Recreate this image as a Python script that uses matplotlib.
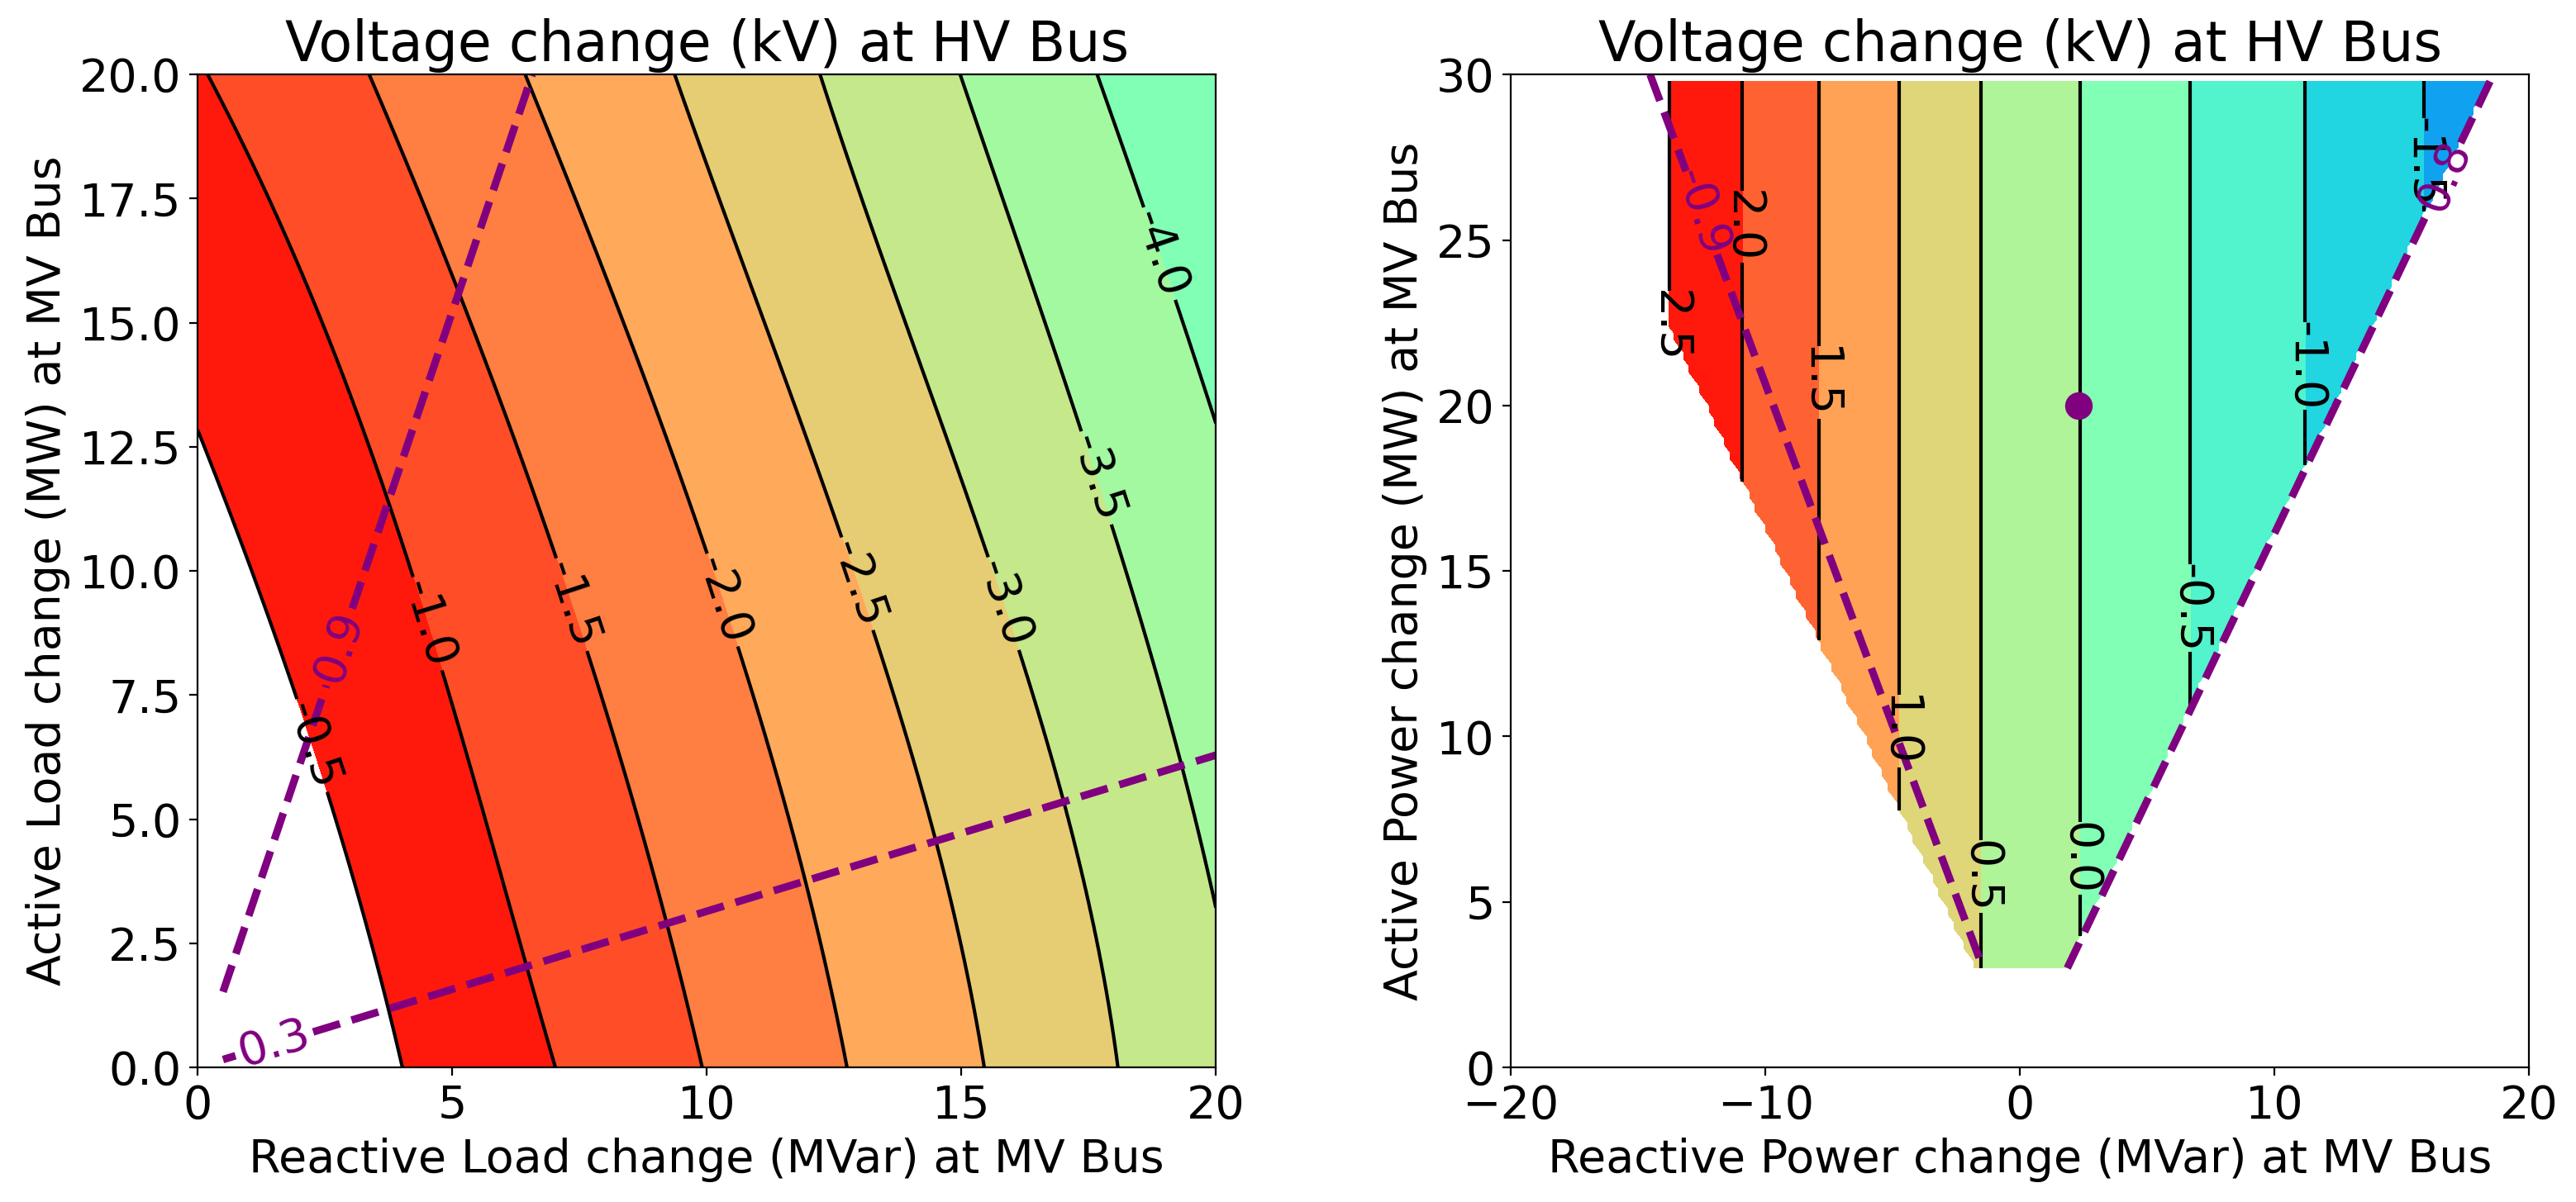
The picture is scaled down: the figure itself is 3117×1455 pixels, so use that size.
import numpy as np
import matplotlib
matplotlib.use("Agg")
from matplotlib import pyplot as plt
from matplotlib.colors import Normalize

plt.rcParams['font.size'] = 20

# ---- left panel: contour lines ----
# x position (MVar) of each level line at these active load values (MW)
left_p_knots = [0, 5, 10, 15, 20]
left_levels = [0.0, -0.5, -1.0, -1.5, -2.0, -2.5, -3.0, -3.5, -4.0, -4.5]
left_q_at_level = [
    [1.0, -0.25, -2.05, -4.1, -6.2],
    [4.02, 2.72, 1.05, -0.85, -3.0],
    [7.02, 5.68, 4.15, 2.48, 0.19],
    [9.92, 8.62, 7.18, 5.33, 3.38],
    [12.76, 11.6, 10.15, 8.35, 6.44],
    [15.46, 14.35, 12.93, 11.1, 9.38],
    [18.09, 17.05, 15.7, 13.85, 12.24],
    [20.6, 19.55, 18.3, 16.6, 14.99],
    [23.2, 22.2, 20.9, 19.35, 17.67],
    [25.8, 24.9, 23.5, 22.0, 20.4],
]
left_fill_levels = [-4.5, -4.0, -3.5, -3.0, -2.5, -2.0, -1.5, -1.0, -0.5]
left_line_levels = [-4.0, -3.5, -3.0, -2.5, -2.0, -1.5, -1.0, -0.5]
left_label_pos = [(2.3, 6.5), (4.59, 8.96), (7.46, 9.36), (10.36, 9.43),
                  (13.01, 9.76), (15.88, 9.36), (17.79, 11.92), (19.0, 16.43)]
left_pf_levels = [0.3, 0.95]
left_pf_label_pos = [(2.55, 8.55), (1.47, 0.6)]

# ---- right panel ----
right_levels = [3.0, 2.5, 2.0, 1.5, 1.0, 0.5, 0.0, -0.5, -1.0, -1.5, -2.0]
right_q_at_level = [-16.6, -13.78, -10.9, -7.91, -4.76, -1.55, 2.36, 6.69, 11.2, 15.86, 20.8]
right_fill_levels = [-2.0, -1.5, -1.0, -0.5, 0.0, 0.5, 1.0, 1.5, 2.0, 2.5]
right_line_levels = [-1.5, -1.0, -0.5, 0.0, 0.5, 1.0, 1.5, 2.0, 2.5]
right_label_pos = [(15.94, 27.36), (11.28, 21.2), (6.77, 13.88), (2.51, 6.31),
                   (-1.43, 5.77), (-4.62, 10.16), (-7.77, 20.69), (-10.9, 25.4),
                   (-13.66, 22.3)]
right_pf_min = 0.85
right_p_min = 3.0
right_pf_left = 0.9
right_pf_right = 0.85
right_pf_labels = ['-0.9', '0.8']
right_pf_label_pos = [(-12.6, 25.8), (16.75, 26.9)]
point_q = [2.3]
point_p = [20]

fig = plt.figure(figsize=(15.585, 7.275), dpi=200)
ax1 = fig.add_axes([0.0767, 0.112, 0.3953, 0.826])
ax2 = fig.add_axes([0.5865, 0.112, 0.3953, 0.826])

# left field built from the read level lines (smooth curve through each line's points)
qq = np.linspace(0, 20, 401)
pp = np.linspace(0, 20, 401)
Q, P = np.meshgrid(qq, pp)
V = np.empty_like(Q)
line_fits = [np.polyfit(left_p_knots, row, 3) for row in left_q_at_level]
for i, p in enumerate(pp):
    xs = [np.polyval(c, p) for c in line_fits]
    V[i] = np.interp(qq, xs, left_levels)

ax1.contourf(Q, P, V, levels=left_fill_levels, cmap='rainbow',
             norm=Normalize(-8.0, -0.5))
cs = ax1.contour(Q, P, V, levels=left_line_levels, colors='k', linewidths=1.5,
                 linestyles='solid')
ax1.clabel(cs, fmt='%1.1f', manual=left_label_pos, fontsize=20)

pq = np.linspace(0.5, 20, 400)
Qp, Pp = np.meshgrid(pq, pp)
pf = Pp / np.hypot(Pp, Qp)
cs2 = ax1.contour(Qp, Pp, pf, levels=left_pf_levels, colors='purple',
                  linewidths=3.3, linestyles='dashed')
ax1.clabel(cs2, fmt='%1.1f', manual=left_pf_label_pos, fontsize=20)

ax1.set_xlim(0, 20)
ax1.set_ylim(0, 20)
ax1.set_title('Voltage change (kV) at HV Bus')
ax1.set_xlabel('Reactive Load change (MVar) at MV Bus')
ax1.set_ylabel('Active Load change (MW) at MV Bus')

# right field: only inside the power factor limit
rq = np.arange(-20, 20.001, 0.2)
rp = np.arange(right_p_min, 29.85, 0.2)
RQ, RP = np.meshgrid(rq, rp)
RV = np.interp(RQ, right_q_at_level, right_levels)
RV = np.ma.masked_where(RP / np.hypot(RP, RQ) < right_pf_min, RV)

ax2.contourf(RQ, RP, RV, levels=right_fill_levels, cmap='rainbow',
             norm=Normalize(-2.93, 2.43))
cs3 = ax2.contour(RQ, RP, RV, levels=right_line_levels, colors='k', linewidths=1.5,
                  linestyles='solid')
ax2.clabel(cs3, fmt='%1.1f', manual=right_label_pos, fontsize=20)

lp = np.linspace(right_p_min, 30, 541)
lq1 = np.linspace(-20, 0, 401)
Q1, P1 = np.meshgrid(lq1, lp)
cs4 = ax2.contour(Q1, P1, P1 / np.hypot(P1, Q1), levels=[right_pf_left], colors='purple',
                  linewidths=3.3, linestyles='dashed')
ax2.clabel(cs4, fmt={right_pf_left: right_pf_labels[0]}, manual=right_pf_label_pos[:1], fontsize=20)
lq2 = np.linspace(0, 20, 401)
Q2, P2 = np.meshgrid(lq2, lp)
cs5 = ax2.contour(Q2, P2, P2 / np.hypot(P2, Q2), levels=[right_pf_right], colors='purple',
                  linewidths=3.3, linestyles='dashed')
ax2.clabel(cs5, fmt={right_pf_right: right_pf_labels[1]}, manual=right_pf_label_pos[1:], fontsize=20)

ax2.plot(point_q, point_p, 'o', color='purple', markersize=11)

ax2.set_xlim(-20, 20)
ax2.set_ylim(0, 30)
ax2.set_title('Voltage change (kV) at HV Bus')
ax2.set_xlabel('Reactive Power change (MVar) at MV Bus')
ax2.set_ylabel('Active Power change (MW) at MV Bus')

fig.savefig('out.png', dpi=200)
